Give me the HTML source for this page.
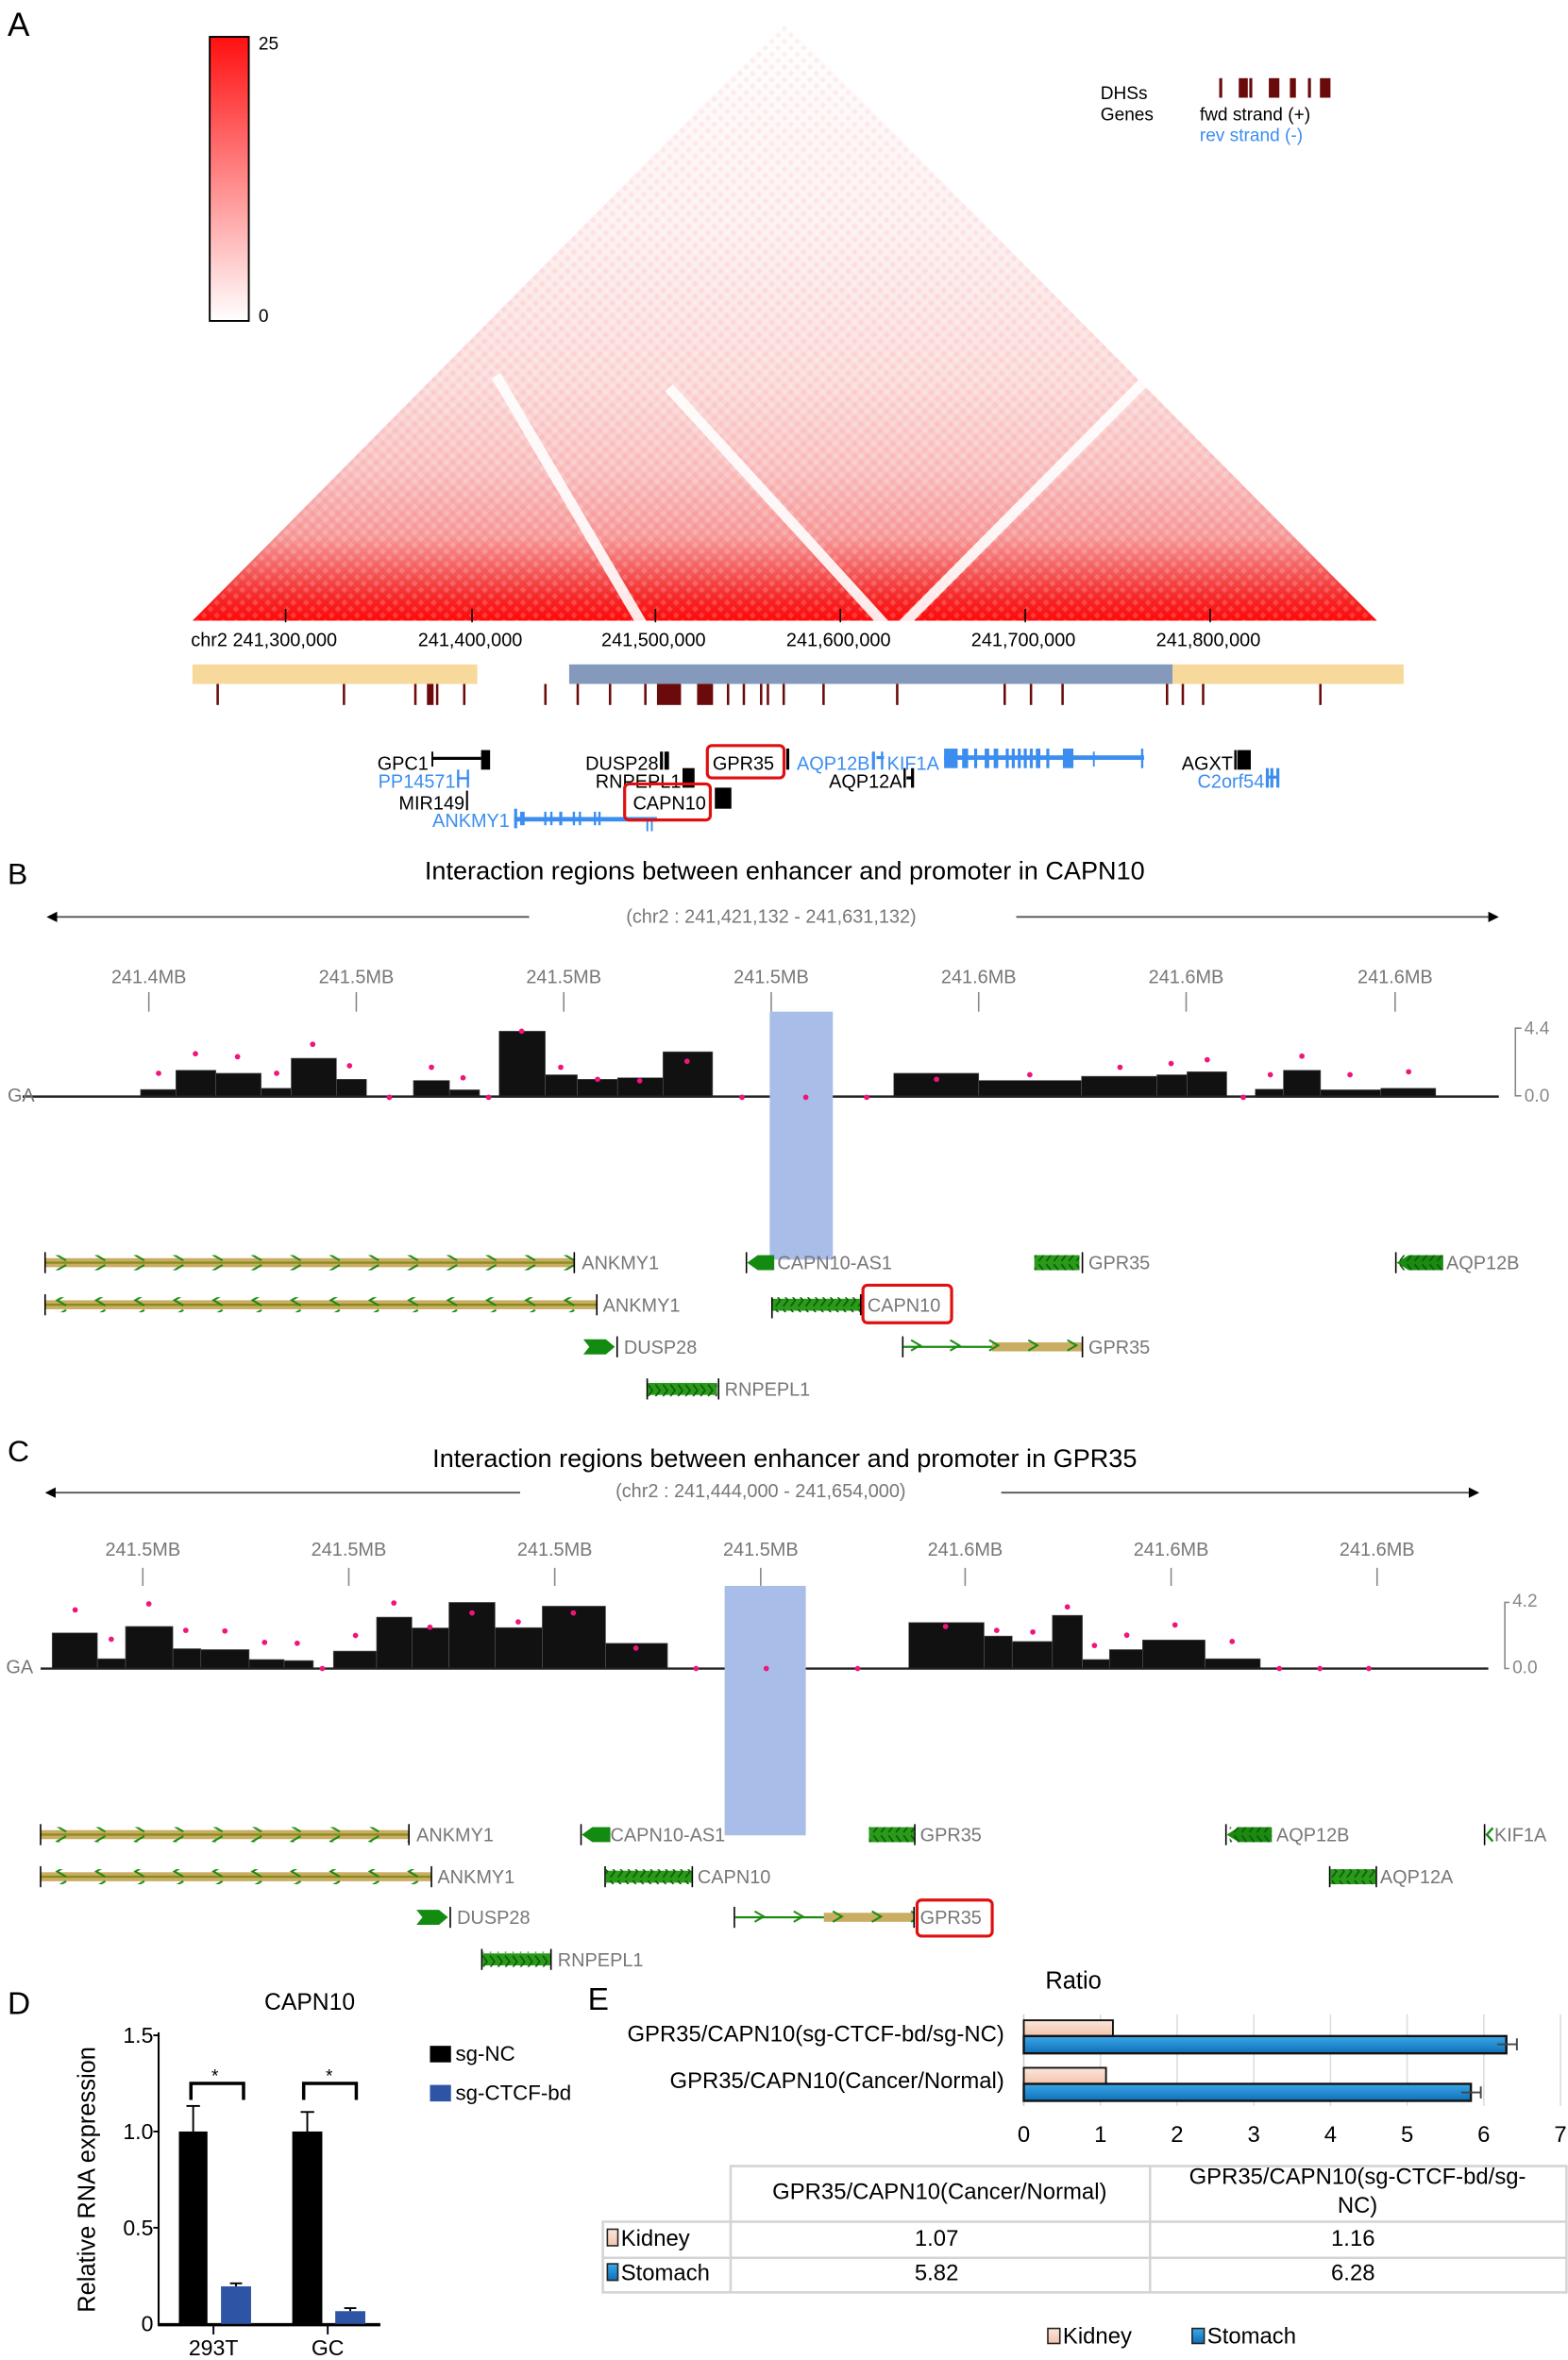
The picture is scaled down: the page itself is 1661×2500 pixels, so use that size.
<!DOCTYPE html>
<html><head><meta charset="utf-8"><style>html,body{margin:0;padding:0;background:#fff}svg{display:block}text{font-family:"Liberation Sans",Arial,sans-serif}</style></head>
<body>
<svg width="1661" height="2500" viewBox="0 0 1043 1570" preserveAspectRatio="none" xmlns="http://www.w3.org/2000/svg">
<defs>
<linearGradient id="hm" x1="0" y1="0" x2="0" y2="1">
<stop offset="0" stop-color="#ffffff"/><stop offset="0.35" stop-color="#fdf0f0"/><stop offset="0.6" stop-color="#fbdcdc"/><stop offset="0.75" stop-color="#f9c2c2"/><stop offset="0.86" stop-color="#f79c9c"/><stop offset="0.92" stop-color="#f45a5a"/><stop offset="0.96" stop-color="#f52a2a"/><stop offset="1" stop-color="#ff0a0a"/></linearGradient>
<linearGradient id="cb" x1="0" y1="0" x2="0" y2="1"><stop offset="0" stop-color="#ff1010"/><stop offset="1" stop-color="#ffffff"/></linearGradient>
<clipPath id="tri"><polygon points="128,413 522,15 916,413"/></clipPath>
<pattern id="dia" width="6" height="6" patternUnits="userSpaceOnUse" patternTransform="rotate(45)"><rect x="0" y="0" width="3" height="3" fill="#fff" opacity="0.18"/><rect x="3" y="3" width="3" height="3" fill="#f00" opacity="0.06"/></pattern>
<pattern id="chL" width="26" height="10" patternUnits="userSpaceOnUse" x="4" y="0"><path d="M14,1.5 L8,5 L14,8.5" fill="none" stroke="#1a8a10" stroke-width="1.3"/></pattern>
<pattern id="chR" width="26" height="10" patternUnits="userSpaceOnUse"><path d="M8,1.5 L14,5 L8,8.5" fill="none" stroke="#1a8a10" stroke-width="1.3"/></pattern>
<pattern id="chD" width="5" height="10" patternUnits="userSpaceOnUse"><path d="M1,1 L4,5 L1,9" fill="none" stroke="#0d5a08" stroke-width="1"/></pattern>
<linearGradient id="kid" x1="0" y1="0" x2="0" y2="1"><stop offset="0" stop-color="#fbe6dc"/><stop offset="1" stop-color="#f2c4ac"/></linearGradient>
<linearGradient id="sto" x1="0" y1="0" x2="0" y2="1"><stop offset="0" stop-color="#3aa8e8"/><stop offset="1" stop-color="#0f6fb8"/></linearGradient>
</defs>

<!-- Panel A -->
<text x="5" y="24" font-size="22">A</text>
<rect x="139.5" y="24.5" width="26" height="189" fill="url(#cb)" stroke="#000" stroke-width="1.2"/>
<text x="172" y="33" font-size="12">25</text>
<text x="172" y="214" font-size="12">0</text>

<g clip-path="url(#tri)">
<rect x="128" y="15" width="788" height="398" fill="url(#hm)"/>
<rect x="128" y="15" width="788" height="398" fill="url(#dia)"/>
<g stroke="#fff" stroke-width="7" opacity="0.9">
<line x1="427" y1="415" x2="330" y2="250"/>
<line x1="588" y1="415" x2="445" y2="258"/>
<line x1="601" y1="415" x2="761" y2="254"/>
</g>
</g>
<text x="732" y="66" font-size="12">DHSs</text>
<text x="732" y="80" font-size="12">Genes</text>
<g fill="#6b0a0a"><rect x="811" y="52" width="2" height="13"/><rect x="824" y="52" width="6" height="13"/><rect x="831" y="52" width="2" height="13"/><rect x="844" y="52" width="7" height="13"/><rect x="858" y="52" width="4" height="13"/><rect x="870" y="52" width="2" height="13"/><rect x="878" y="52" width="7" height="13"/></g>
<text x="798" y="80" font-size="12">fwd strand (+)</text>
<text x="798" y="94" font-size="12" fill="#3b8ef0">rev strand (-)</text>

<g stroke="#000" stroke-width="1"><line x1="190" y1="405" x2="190" y2="414"/><line x1="314" y1="405" x2="314" y2="414"/><line x1="436" y1="405" x2="436" y2="414"/><line x1="559" y1="405" x2="559" y2="414"/><line x1="682" y1="405" x2="682" y2="414"/><line x1="805" y1="405" x2="805" y2="414"/></g>
<g font-size="12.5"><text x="127" y="430">chr2 241,300,000</text><text x="278" y="430">241,400,000</text><text x="400" y="430">241,500,000</text><text x="523" y="430">241,600,000</text><text x="646" y="430">241,700,000</text><text x="769" y="430">241,800,000</text></g>
<rect x="128" y="442" width="189.5" height="13" fill="#f7d99b"/>
<rect x="378.6" y="442" width="401.4" height="13" fill="#8499bb"/>
<rect x="780" y="442" width="153.7" height="13" fill="#f7d99b"/>
<g fill="#6b0a0a">
<rect x="144" y="455" width="1.6" height="14"/><rect x="228" y="455" width="1.6" height="14"/><rect x="275.5" y="455" width="1.6" height="14"/><rect x="284" y="455" width="4.4" height="14"/><rect x="290" y="455" width="1.6" height="14"/><rect x="308" y="455" width="1.6" height="14"/><rect x="362" y="455" width="1.6" height="14"/><rect x="383.5" y="455" width="1.6" height="14"/><rect x="405" y="455" width="1.6" height="14"/><rect x="428.5" y="455" width="1.6" height="14"/><rect x="437" y="455" width="16" height="14"/><rect x="463.7" y="455" width="10.6" height="14"/><rect x="483.5" y="455" width="1.6" height="14"/><rect x="494" y="455" width="1.6" height="14"/><rect x="505.5" y="455" width="1.6" height="14"/><rect x="510" y="455" width="1.6" height="14"/><rect x="520.5" y="455" width="1.6" height="14"/><rect x="547" y="455" width="1.6" height="14"/><rect x="596" y="455" width="1.6" height="14"/><rect x="667.5" y="455" width="1.6" height="14"/><rect x="685" y="455" width="1.6" height="14"/><rect x="706" y="455" width="1.6" height="14"/><rect x="775.5" y="455" width="1.6" height="14"/><rect x="786" y="455" width="1.6" height="14"/><rect x="799.5" y="455" width="1.6" height="14"/><rect x="877.5" y="455" width="1.6" height="14"/>
</g>
<!-- A genes -->
<g font-size="12.5">
<text x="285" y="512" text-anchor="end">GPC1</text>
<rect x="287" y="503.5" width="33" height="2" fill="#000"/><rect x="287" y="500" width="1.2" height="10" fill="#000"/><rect x="320" y="499" width="6" height="13" fill="#000"/>
<text x="303" y="524" text-anchor="end" fill="#3b8ef0">PP14571</text>
<g fill="#3b8ef0"><rect x="304" y="512" width="1.5" height="12"/><rect x="304" y="517" width="8" height="1.5"/><rect x="310.5" y="512" width="1.5" height="12"/></g>
<text x="309" y="538.5" text-anchor="end">MIR149</text><rect x="310" y="526" width="1.3" height="13" fill="#000"/>
<text x="339" y="550" text-anchor="end" fill="#3b8ef0">ANKMY1</text>
<g fill="#3b8ef0"><rect x="342" y="543.5" width="95" height="3"/><rect x="342" y="538" width="2" height="13"/><rect x="346" y="540" width="3" height="9"/><rect x="362" y="540" width="1.5" height="9"/><rect x="366" y="540" width="1.5" height="9"/><rect x="372" y="540" width="2" height="9"/><rect x="381" y="540" width="1.5" height="9"/><rect x="385" y="540" width="1.5" height="9"/><rect x="395" y="540" width="1.5" height="9"/><rect x="398" y="540" width="1.5" height="9"/><rect x="430" y="546" width="1.2" height="7"/><rect x="433" y="546" width="1.2" height="7"/></g>
<text x="438" y="512" text-anchor="end">DUSP28</text><rect x="439" y="500" width="2" height="12" fill="#000"/><rect x="442" y="500" width="3" height="12" fill="#000"/>
<text x="453" y="524" text-anchor="end">RNPEPL1</text><rect x="454" y="511" width="8" height="13" fill="#000"/>
<text x="421" y="538.5">CAPN10</text><rect x="415.5" y="521.5" width="57" height="24" rx="3" fill="none" stroke="#e01010" stroke-width="2"/>
<rect x="475.5" y="524" width="11" height="14" fill="#000"/>
<text x="474" y="512">GPR35</text><rect x="470.5" y="496" width="51" height="21.5" rx="3" fill="none" stroke="#e01010" stroke-width="2"/>
<rect x="523" y="498" width="2" height="14" fill="#000"/>
<text x="530" y="512" fill="#3b8ef0">AQP12B</text><g fill="#3b8ef0"><rect x="580" y="500" width="2" height="12"/><rect x="583" y="503" width="5" height="2"/><rect x="586" y="500" width="1.5" height="12"/></g>
<text x="590" y="512" fill="#3b8ef0">KIF1A</text>
<g fill="#3b8ef0"><rect x="628" y="502.5" width="133" height="3"/><rect x="628" y="498" width="9" height="13"/><rect x="640" y="498" width="4" height="13"/><rect x="648" y="498" width="2" height="13"/><rect x="655" y="498" width="3" height="13"/><rect x="661" y="498" width="3" height="13"/><rect x="669" y="498" width="2" height="13"/><rect x="673" y="498" width="2" height="13"/><rect x="677" y="498" width="2" height="13"/><rect x="681" y="498" width="2" height="13"/><rect x="685" y="498" width="2" height="13"/><rect x="689" y="498" width="3" height="13"/><rect x="696" y="498" width="2" height="13"/><rect x="707" y="498" width="7" height="13"/><rect x="727" y="500" width="1.2" height="10"/><rect x="759" y="498" width="1.5" height="13"/></g>
<text x="600" y="524" text-anchor="end">AQP12A</text><rect x="601" y="511" width="1.5" height="13" fill="#000"/><rect x="603" y="516.5" width="4" height="2" fill="#000"/><rect x="606" y="511" width="2" height="13" fill="#000"/>
<text x="820" y="512" text-anchor="end">AGXT</text><rect x="821" y="499" width="1.5" height="13" fill="#000"/><rect x="823" y="499" width="9" height="13" fill="#000"/>
<text x="841" y="524" text-anchor="end" fill="#3b8ef0">C2orf54</text><g fill="#3b8ef0"><rect x="842" y="511" width="2" height="13"/><rect x="845" y="511" width="2" height="13"/><rect x="844" y="516" width="6" height="2"/><rect x="849" y="511" width="2" height="13"/></g>
</g>

<!-- Panel B -->
<text x="5" y="588" font-size="20">B</text>
<text x="522" y="585" font-size="17" text-anchor="middle">Interaction regions between enhancer and promoter in CAPN10</text>
<g stroke="#555" stroke-width="1.2"><line x1="35" y1="610" x2="352" y2="610"/><line x1="676" y1="610" x2="992" y2="610"/></g>
<polygon points="31,610 38,606.5 38,613.5" fill="#000"/><polygon points="997,610 990,606.5 990,613.5" fill="#000"/>
<text x="513" y="614" font-size="12.5" text-anchor="middle" fill="#777">(chr2 : 241,421,132 - 241,631,132)</text>
<g font-size="12.5" fill="#777" text-anchor="middle"><text x="99" y="654">241.4MB</text><text x="237" y="654">241.5MB</text><text x="375" y="654">241.5MB</text><text x="513" y="654">241.5MB</text><text x="651" y="654">241.6MB</text><text x="789" y="654">241.6MB</text><text x="928" y="654">241.6MB</text></g>
<g stroke="#888" stroke-width="1"><line x1="99" y1="660" x2="99" y2="673"/><line x1="237" y1="660" x2="237" y2="673"/><line x1="375" y1="660" x2="375" y2="673"/><line x1="513" y1="660" x2="513" y2="673"/><line x1="651" y1="660" x2="651" y2="673"/><line x1="789" y1="660" x2="789" y2="673"/><line x1="928" y1="660" x2="928" y2="673"/></g>
<g fill="#111" stroke="#555" stroke-width="0.4">
<rect x="93.5" y="724.8" width="23.5" height="5.2"/><rect x="117" y="712" width="26.6" height="18"/><rect x="143.6" y="714" width="30.1" height="16"/><rect x="173.7" y="724" width="20" height="6"/><rect x="193.7" y="704" width="30.1" height="26"/><rect x="223.8" y="718" width="20" height="12"/><rect x="275" y="718.8" width="24" height="11.2"/><rect x="299" y="725" width="20" height="5"/><rect x="332" y="686" width="30.7" height="44"/><rect x="362.7" y="715" width="21.3" height="15"/><rect x="384" y="718" width="26.8" height="12"/><rect x="410.8" y="717" width="30.2" height="13"/><rect x="441" y="699.7" width="33" height="30.3"/><rect x="594.5" y="714" width="56.5" height="16"/><rect x="651" y="718.8" width="68.4" height="11.2"/><rect x="719.4" y="716" width="50.1" height="14"/><rect x="769.5" y="715" width="20.1" height="15"/><rect x="789.6" y="713" width="26.4" height="17"/><rect x="835" y="724.6" width="18.7" height="5.4"/><rect x="853.7" y="712" width="24.7" height="18"/><rect x="878.4" y="725" width="40.1" height="5"/><rect x="918.5" y="724" width="36.5" height="6"/>
</g>
<line x1="15" y1="729.5" x2="997" y2="729.5" stroke="#222" stroke-width="1.5"/>
<text x="5" y="733" font-size="12.5" fill="#777">GA</text>
<path d="M1012,684 L1008,684 L1008,729 L1012,729" fill="none" stroke="#888"/>
<text x="1014" y="688" font-size="12" fill="#888">4.4</text><text x="1014" y="733" font-size="12" fill="#888">0.0</text>
<rect x="512" y="673" width="42" height="165" fill="#a9bde9"/>
<g fill="#f0157a">
<circle cx="105.5" cy="714" r="1.8"/><circle cx="130" cy="701" r="1.8"/><circle cx="158" cy="703" r="1.8"/><circle cx="184" cy="714" r="1.8"/><circle cx="208" cy="694.7" r="1.8"/><circle cx="232.5" cy="709" r="1.8"/><circle cx="259" cy="730" r="1.8"/><circle cx="287" cy="710" r="1.8"/><circle cx="308" cy="717" r="1.8"/><circle cx="325" cy="730" r="1.8"/><circle cx="347" cy="686" r="1.8"/><circle cx="373" cy="710" r="1.8"/><circle cx="397.5" cy="718" r="1.8"/><circle cx="425.5" cy="719" r="1.8"/><circle cx="457" cy="706" r="1.8"/><circle cx="493.6" cy="730" r="1.8"/><circle cx="536" cy="730" r="1.8"/><circle cx="576.5" cy="730" r="1.8"/><circle cx="623" cy="718" r="1.8"/><circle cx="685" cy="715" r="1.8"/><circle cx="745" cy="710" r="1.8"/><circle cx="779" cy="707.5" r="1.8"/><circle cx="803" cy="705" r="1.8"/><circle cx="827" cy="730" r="1.8"/><circle cx="845" cy="715" r="1.8"/><circle cx="866" cy="702.6" r="1.8"/><circle cx="898" cy="715" r="1.8"/><circle cx="937" cy="713" r="1.8"/>
</g>
<!-- B genes -->
<g font-size="12.5" fill="#777">
<rect x="30" y="837" width="352" height="6" fill="#c9ad62"/><rect x="30" y="839.3" width="352" height="1.4" fill="#8a8a20"/><rect x="30" y="835" width="352" height="10" fill="url(#chL)"/><rect x="29.5" y="833" width="1" height="14" fill="#000"/><rect x="381.5" y="833" width="1" height="14" fill="#000"/><text x="387" y="844.5">ANKMY1</text>
<rect x="30" y="865" width="367" height="6" fill="#c9ad62"/><rect x="30" y="867.3" width="367" height="1.4" fill="#8a8a20"/><rect x="30" y="863" width="367" height="10" fill="url(#chL)"/><rect x="29.5" y="861" width="1" height="14" fill="#000"/><rect x="396.5" y="861" width="1" height="14" fill="#000"/><text x="401" y="872.5">ANKMY1</text>
<rect x="496" y="833" width="1" height="14" fill="#000"/><polygon points="497,840 504,835 515,835 515,845 504,845" fill="#138a10"/><text x="517" y="844.5">CAPN10-AS1</text>
<rect x="688" y="835" width="30" height="10" fill="#2a9a1a"/><rect x="688" y="835" width="30" height="10" fill="url(#chD)"/><rect x="719.5" y="833" width="1" height="14" fill="#000"/><text x="724" y="844.5">GPR35</text>
<rect x="928" y="833" width="1" height="14" fill="#000"/><polygon points="929,840 937,835 960,835 960,845 937,845" fill="#1a8a10"/><rect x="931" y="835" width="29" height="10" fill="url(#chD)"/><text x="962" y="844.5">AQP12B</text>
<rect x="513" y="863" width="1" height="14" fill="#000"/><rect x="514" y="864" width="58" height="8" fill="#2a9a1a"/><rect x="514" y="863" width="58" height="10" fill="url(#chD)"/><rect x="572" y="861" width="1" height="14" fill="#000"/><text x="577" y="872.5">CAPN10</text><rect x="574" y="855" width="59" height="25" rx="3" fill="none" stroke="#e01010" stroke-width="2"/>
<polygon points="388,891 403,891 409,896 403,901 388,901 392,896" fill="#138a10"/><rect x="410" y="889" width="1" height="14" fill="#000"/><text x="415" y="900.5">DUSP28</text>
<rect x="600" y="889" width="1" height="14" fill="#000"/><rect x="601" y="895.3" width="119" height="1.4" fill="#1a8a10"/><rect x="660" y="893" width="60" height="6" fill="#c9ad62"/><rect x="601" y="891" width="119" height="10" fill="url(#chR)"/><rect x="719.5" y="889" width="1" height="14" fill="#000"/><text x="724" y="900.5">GPR35</text>
<rect x="430" y="917" width="1" height="14" fill="#000"/><rect x="431" y="920" width="46" height="8" fill="#2a9a1a"/><rect x="431" y="919" width="46" height="10" fill="url(#chD)"/><rect x="477.5" y="917" width="1" height="14" fill="#000"/><text x="482" y="928.5">RNPEPL1</text>
</g>

<!-- Panel C -->
<text x="5" y="972" font-size="20">C</text>
<text x="522" y="976" font-size="17" text-anchor="middle">Interaction regions between enhancer and promoter in GPR35</text>
<g stroke="#555" stroke-width="1.2"><line x1="34" y1="993" x2="346" y2="993"/><line x1="666" y1="993" x2="979" y2="993"/></g>
<polygon points="30,993 37,989.5 37,996.5" fill="#000"/><polygon points="984,993 977,989.5 977,996.5" fill="#000"/>
<text x="506" y="996" font-size="12.5" text-anchor="middle" fill="#777">(chr2 : 241,444,000 - 241,654,000)</text>
<g font-size="12.5" fill="#777" text-anchor="middle"><text x="95" y="1035">241.5MB</text><text x="232" y="1035">241.5MB</text><text x="369" y="1035">241.5MB</text><text x="506" y="1035">241.5MB</text><text x="642" y="1035">241.6MB</text><text x="779" y="1035">241.6MB</text><text x="916" y="1035">241.6MB</text></g>
<g stroke="#888" stroke-width="1"><line x1="95" y1="1043" x2="95" y2="1055"/><line x1="232" y1="1043" x2="232" y2="1055"/><line x1="369" y1="1043" x2="369" y2="1055"/><line x1="506" y1="1043" x2="506" y2="1055"/><line x1="642" y1="1043" x2="642" y2="1055"/><line x1="779" y1="1043" x2="779" y2="1055"/><line x1="916" y1="1043" x2="916" y2="1055"/></g>
<g fill="#111" stroke="#555" stroke-width="0.4">
<rect x="34.7" y="1086.3" width="30.1" height="23.7"/><rect x="64.8" y="1103.5" width="18.7" height="6.5"/><rect x="83.5" y="1082" width="31.5" height="28"/><rect x="115" y="1096.8" width="18.6" height="13.2"/><rect x="133.6" y="1097.4" width="32.1" height="12.6"/><rect x="165.7" y="1104" width="23.3" height="6"/><rect x="189" y="1104.7" width="19.4" height="5.3"/><rect x="221.8" y="1098.4" width="28.7" height="11.6"/><rect x="250.5" y="1075.8" width="23.5" height="34.2"/><rect x="274" y="1083" width="24.6" height="27"/><rect x="298.6" y="1066" width="30.7" height="44"/><rect x="329.3" y="1082.8" width="31.4" height="27.2"/><rect x="360.7" y="1068.5" width="42.1" height="41.5"/><rect x="402.8" y="1093.2" width="41.2" height="16.8"/><rect x="604.5" y="1079.4" width="50.1" height="30.6"/><rect x="654.6" y="1088.4" width="18.7" height="21.6"/><rect x="673.3" y="1092" width="26.7" height="18"/><rect x="700" y="1074.6" width="20" height="35.4"/><rect x="720" y="1104" width="18" height="6"/><rect x="738" y="1097.4" width="22" height="12.6"/><rect x="760" y="1091" width="41.6" height="19"/><rect x="801.6" y="1103.5" width="36.7" height="6.5"/>
</g>
<line x1="27" y1="1110" x2="990" y2="1110" stroke="#222" stroke-width="1.5"/>
<text x="4" y="1113" font-size="12.5" fill="#777">GA</text>
<path d="M1004,1066 L1001,1066 L1001,1110 L1004,1110" fill="none" stroke="#888"/>
<text x="1006" y="1069" font-size="12" fill="#888">4.2</text><text x="1006" y="1113" font-size="12" fill="#888">0.0</text>
<rect x="482" y="1055" width="54" height="166" fill="#a9bde9"/>
<g fill="#f0157a">
<circle cx="50" cy="1071" r="1.8"/><circle cx="74" cy="1090.5" r="1.8"/><circle cx="99" cy="1067" r="1.8"/><circle cx="123.6" cy="1084.6" r="1.8"/><circle cx="149.6" cy="1085" r="1.8"/><circle cx="176" cy="1092.6" r="1.8"/><circle cx="197.7" cy="1093.2" r="1.8"/><circle cx="214.4" cy="1110" r="1.8"/><circle cx="236.5" cy="1088" r="1.8"/><circle cx="262" cy="1066.4" r="1.8"/><circle cx="286" cy="1082.5" r="1.8"/><circle cx="314" cy="1073" r="1.8"/><circle cx="344.7" cy="1079" r="1.8"/><circle cx="381.4" cy="1073" r="1.8"/><circle cx="423" cy="1096.4" r="1.8"/><circle cx="463" cy="1110" r="1.8"/><circle cx="509.7" cy="1110" r="1.8"/><circle cx="570.5" cy="1110" r="1.8"/><circle cx="629" cy="1082" r="1.8"/><circle cx="663" cy="1084.6" r="1.8"/><circle cx="687" cy="1085.7" r="1.8"/><circle cx="710" cy="1069" r="1.8"/><circle cx="728" cy="1094.7" r="1.8"/><circle cx="749.5" cy="1087.8" r="1.8"/><circle cx="781.6" cy="1081" r="1.8"/><circle cx="819.6" cy="1092" r="1.8"/><circle cx="851" cy="1110" r="1.8"/><circle cx="878" cy="1110" r="1.8"/><circle cx="910.5" cy="1110" r="1.8"/>
</g>
<!-- C genes -->
<g font-size="12.5" fill="#777">
<rect x="27" y="1217.5" width="245" height="6" fill="#c9ad62"/><rect x="27" y="1219.8" width="245" height="1.4" fill="#8a8a20"/><rect x="27" y="1215.5" width="245" height="10" fill="url(#chL)"/><rect x="26.5" y="1213.5" width="1" height="14" fill="#000"/><rect x="271.5" y="1213.5" width="1" height="14" fill="#000"/><text x="277" y="1225">ANKMY1</text>
<rect x="386" y="1213.5" width="1" height="14" fill="#000"/><polygon points="387,1220.5 394,1215.5 406,1215.5 406,1225.5 394,1225.5" fill="#138a10"/><text x="406" y="1225">CAPN10-AS1</text>
<rect x="578" y="1215.5" width="30" height="10" fill="#2a9a1a"/><rect x="578" y="1215.5" width="30" height="10" fill="url(#chD)"/><rect x="608" y="1213.5" width="1" height="14" fill="#000"/><text x="612" y="1225">GPR35</text>
<rect x="815" y="1213.5" width="1" height="14" fill="#000"/><polygon points="816,1220.5 824,1215.5 846,1215.5 846,1225.5 824,1225.5" fill="#1a8a10"/><rect x="818" y="1215.5" width="28" height="10" fill="url(#chD)"/><text x="849" y="1225">AQP12B</text>
<rect x="987" y="1213.5" width="1" height="14" fill="#000"/><path d="M993,1216 L989,1220.5 L993,1225" fill="none" stroke="#1a8a10" stroke-width="1.5"/><text x="994" y="1225">KIF1A</text>
<rect x="27" y="1245.5" width="260" height="6" fill="#c9ad62"/><rect x="27" y="1247.8" width="260" height="1.4" fill="#8a8a20"/><rect x="27" y="1243.5" width="260" height="10" fill="url(#chL)"/><rect x="26.5" y="1241.5" width="1" height="14" fill="#000"/><rect x="286.5" y="1241.5" width="1" height="14" fill="#000"/><text x="291" y="1253">ANKMY1</text>
<rect x="402" y="1241.5" width="1" height="14" fill="#000"/><rect x="403" y="1244.5" width="57" height="8" fill="#2a9a1a"/><rect x="403" y="1243.5" width="57" height="10" fill="url(#chD)"/><rect x="460" y="1241.5" width="1" height="14" fill="#000"/><text x="464" y="1253">CAPN10</text>
<rect x="884" y="1241.5" width="1" height="14" fill="#000"/><rect x="885" y="1243.5" width="30" height="10" fill="#2a9a1a"/><rect x="885" y="1243.5" width="30" height="10" fill="url(#chD)"/><rect x="915" y="1241.5" width="1" height="14" fill="#000"/><text x="918" y="1253">AQP12A</text>
<polygon points="277,1270.5 292,1270.5 298,1275.5 292,1280.5 277,1280.5 281,1275.5" fill="#138a10"/><rect x="299" y="1268.5" width="1" height="14" fill="#000"/><text x="304" y="1280">DUSP28</text>
<rect x="488" y="1268.5" width="1" height="14" fill="#000"/><rect x="489" y="1274.8" width="119" height="1.4" fill="#1a8a10"/><rect x="548" y="1272.5" width="60" height="6" fill="#c9ad62"/><rect x="489" y="1270.5" width="119" height="10" fill="url(#chR)"/><rect x="607.5" y="1268.5" width="1" height="14" fill="#000"/><text x="612" y="1280">GPR35</text><rect x="610" y="1264" width="50" height="24" rx="3" fill="none" stroke="#e01010" stroke-width="2"/>
<rect x="320" y="1296.5" width="1" height="14" fill="#000"/><rect x="321" y="1299.5" width="45" height="8" fill="#2a9a1a"/><rect x="321" y="1298.5" width="45" height="10" fill="url(#chD)"/><rect x="366" y="1296.5" width="1" height="14" fill="#000"/><text x="371" y="1308">RNPEPL1</text>
</g>

<!-- Panel D -->
<text x="5" y="1340" font-size="21">D</text>
<text x="206" y="1337" font-size="15.5" text-anchor="middle">CAPN10</text>
<text transform="translate(63,1450) rotate(-90)" font-size="16" text-anchor="middle">Relative RNA expression</text>
<line x1="105.5" y1="1352" x2="105.5" y2="1547" stroke="#000" stroke-width="1.3"/>
<line x1="105" y1="1546.5" x2="253" y2="1546.5" stroke="#000" stroke-width="2.2"/>
<g stroke="#000" stroke-width="1.2"><line x1="102" y1="1354" x2="106" y2="1354"/><line x1="102" y1="1418" x2="106" y2="1418"/><line x1="102" y1="1482" x2="106" y2="1482"/><line x1="142" y1="1547" x2="142" y2="1553"/><line x1="218" y1="1547" x2="218" y2="1553"/></g>
<g font-size="14.5" text-anchor="end"><text x="102" y="1359">1.5</text><text x="102" y="1423">1.0</text><text x="102" y="1487">0.5</text><text x="102" y="1551">0</text></g>
<rect x="119" y="1418" width="19" height="128" fill="#000"/>
<rect x="147" y="1521" width="20" height="25" fill="#2e55a5"/>
<rect x="194.4" y="1418" width="20" height="128" fill="#000"/>
<rect x="223" y="1537.5" width="20" height="8.5" fill="#2e55a5"/>
<g stroke="#000" stroke-width="1.2"><line x1="128.5" y1="1418" x2="128.5" y2="1401"/><line x1="124" y1="1401" x2="133" y2="1401"/><line x1="157" y1="1521" x2="157" y2="1519"/><line x1="153" y1="1519" x2="161" y2="1519"/><line x1="204.4" y1="1418" x2="204.4" y2="1405"/><line x1="200" y1="1405" x2="209" y2="1405"/><line x1="233" y1="1537.5" x2="233" y2="1535.5"/><line x1="229" y1="1535.5" x2="237" y2="1535.5"/></g>
<g fill="none" stroke="#000" stroke-width="2.2"><path d="M127,1397 L127,1386 L162,1386 L162,1397"/><path d="M202,1397 L202,1386 L237,1386 L237,1397"/></g>
<text x="143" y="1385" font-size="12" text-anchor="middle">*</text><text x="219" y="1385" font-size="12" text-anchor="middle">*</text>
<g font-size="14.5" text-anchor="middle"><text x="142" y="1567">293T</text><text x="218" y="1567">GC</text></g>
<rect x="286" y="1361" width="14" height="11" fill="#000"/><text x="303" y="1371" font-size="14">sg-NC</text>
<rect x="286" y="1387" width="14" height="11" fill="#2e55a5"/><text x="303" y="1397" font-size="14">sg-CTCF-bd</text>

<!-- Panel E -->
<text x="391" y="1337" font-size="21">E</text>
<text x="714" y="1323" font-size="16" text-anchor="middle">Ratio</text>
<g stroke="#ddd" stroke-width="1"><line x1="732" y1="1340" x2="732" y2="1401"/><line x1="783" y1="1340" x2="783" y2="1401"/><line x1="834" y1="1340" x2="834" y2="1401"/><line x1="885" y1="1340" x2="885" y2="1401"/><line x1="936" y1="1340" x2="936" y2="1401"/><line x1="987" y1="1340" x2="987" y2="1401"/><line x1="1038" y1="1340" x2="1038" y2="1401"/></g>
<line x1="681" y1="1340" x2="681" y2="1401" stroke="#ccc"/>
<rect x="681" y="1344" width="59.3" height="10.5" fill="url(#kid)" stroke="#111" stroke-width="1.2"/>
<rect x="681" y="1354.5" width="321" height="11.5" fill="url(#sto)" stroke="#111" stroke-width="1.5"/>
<rect x="681" y="1375.6" width="54.7" height="10.7" fill="url(#kid)" stroke="#111" stroke-width="1.2"/>
<rect x="681" y="1386.3" width="297.4" height="11.3" fill="url(#sto)" stroke="#111" stroke-width="1.5"/>
<g stroke="#444" stroke-width="1.2"><line x1="996" y1="1360" x2="1009" y2="1360"/><line x1="1009" y1="1356" x2="1009" y2="1364"/><line x1="972" y1="1392" x2="985" y2="1392"/><line x1="985" y1="1388" x2="985" y2="1396"/></g>
<g font-size="15" text-anchor="end"><text x="668" y="1358">GPR35/CAPN10(sg-CTCF-bd/sg-NC)</text><text x="668" y="1389">GPR35/CAPN10(Cancer/Normal)</text></g>
<g font-size="15" text-anchor="middle"><text x="681" y="1425">0</text><text x="732" y="1425">1</text><text x="783" y="1425">2</text><text x="834" y="1425">3</text><text x="885" y="1425">4</text><text x="936" y="1425">5</text><text x="987" y="1425">6</text><text x="1038" y="1425">7</text></g>
<g stroke="#d4d4d4" stroke-width="1.6" fill="none">
<path d="M486,1478 L486,1441 L1042,1441 L1042,1525 L401,1525 L401,1478 L1042,1478"/>
<line x1="401" y1="1502" x2="1042" y2="1502"/><line x1="486" y1="1478" x2="486" y2="1525"/><line x1="765" y1="1441" x2="765" y2="1525"/>
</g>
<g font-size="15" text-anchor="middle"><text x="625" y="1463">GPR35/CAPN10(Cancer/Normal)</text><text x="903" y="1453">GPR35/CAPN10(sg-CTCF-bd/sg-</text><text x="903" y="1472">NC)</text><text x="623" y="1494">1.07</text><text x="900" y="1494">1.16</text><text x="623" y="1517">5.82</text><text x="900" y="1517">6.28</text></g>
<rect x="404" y="1483" width="7" height="11" fill="url(#kid)" stroke="#222"/><text x="413" y="1494" font-size="15">Kidney</text>
<rect x="404" y="1506" width="7" height="11" fill="url(#sto)" stroke="#222"/><text x="413" y="1517" font-size="15">Stomach</text>
<rect x="697" y="1549" width="8" height="10" fill="url(#kid)" stroke="#222"/><text x="707" y="1559" font-size="15">Kidney</text>
<rect x="793" y="1549" width="8" height="10" fill="url(#sto)" stroke="#222"/><text x="803" y="1559" font-size="15">Stomach</text>
</svg>
</body></html>
